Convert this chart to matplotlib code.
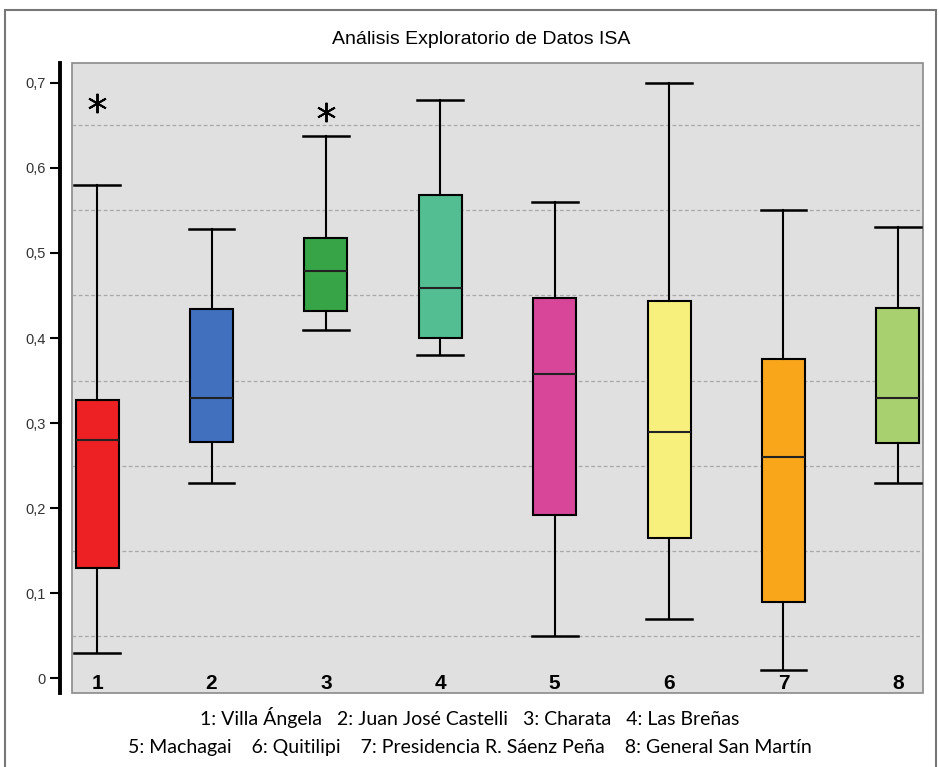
import matplotlib.pyplot as plt
import matplotlib.patches as patches
import numpy as np

# datos (ISA por localidad)
localidades = ["1", "2", "3", "4", "5", "6", "7", "8"]
bigote_sup = [0.58, 0.528, 0.638, 0.68, 0.56, 0.70, 0.55, 0.53]
q3 = [0.327, 0.434, 0.518, 0.568, 0.447, 0.443, 0.375, 0.435]
mediana = [0.28, 0.33, 0.479, 0.459, 0.358, 0.29, 0.26, 0.33]
q1 = [0.13, 0.278, 0.432, 0.40, 0.192, 0.165, 0.09, 0.277]
bigote_inf = [0.03, 0.23, 0.41, 0.38, 0.05, 0.07, 0.01, 0.23]
atipicos = [[0.676], [], [0.666], [], [], [], [], []]
colores = ["#ED2024", "#4170BF", "#37A547", "#52BE91",
           "#D8469A", "#F8F07C", "#F9A61B", "#A8D06F"]
nombres = ["1: Villa Ángela", "2: Juan José Castelli", "3: Charata", "4: Las Breñas",
           "5: Machagai", "6: Quitilipi", "7: Presidencia R. Sáenz Peña", "8: General San Martín"]

fig = plt.figure(figsize=(9.39, 7.67), dpi=100)
ax = fig.add_axes([72/939, 74/767, 851/939, 630/767])

stats = []
for i in range(len(localidades)):
    stats.append({"whishi": bigote_sup[i], "q3": q3[i], "med": mediana[i],
                  "q1": q1[i], "whislo": bigote_inf[i], "fliers": atipicos[i]})

pos = np.arange(1, len(localidades) + 1)
bp = ax.bxp(stats, positions=pos, widths=0.375, patch_artist=True,
            showfliers=True,
            boxprops=dict(edgecolor="black", linewidth=1.5),
            medianprops=dict(color="#222222", linewidth=1.5),
            whiskerprops=dict(color="black", linewidth=1.5),
            capprops=dict(color="black", linewidth=1.8),
            capwidths=0.4,
            flierprops=dict(marker=(6, 2, 0), markersize=14, markeredgecolor="black",
                            markeredgewidth=1.4, linestyle="none"))
for caja, c in zip(bp["boxes"], colores):
    caja.set_facecolor(c)

ax.set_xlim(0.78, 8.22)
ax.set_ylim(-0.0176, 0.7235)
ax.set_facecolor("#E0E0E0")
ax.patch.set_edgecolor("#8A8A8A")
ax.patch.set_linewidth(1.2)

for s in ["top", "right", "bottom"]:
    ax.spines[s].set_visible(False)
ax.spines["left"].set_position(("outward", 9))
ax.spines["left"].set_linewidth(2.8)

ax.set_yticks(np.arange(0, 0.71, 0.1))
ax.set_yticklabels(["0"] + ["0,%d" % k for k in range(1, 8)], fontsize=10.5,
                   color="#333333", fontfamily="Liberation Sans")
ax.set_yticks(np.arange(0.05, 0.7, 0.1), minor=True)
ax.tick_params(axis="y", which="major", length=7, width=1.5, pad=3)
ax.tick_params(axis="y", which="minor", length=0)
ax.grid(axis="y", which="minor", color="#A8A8A8", linestyle=(0, (3, 2)), linewidth=0.9)
ax.set_axisbelow(True)

ax.set_xticks([])
for p, lab in zip(pos, localidades):
    ax.text(p, -0.0176, lab, ha="center", va="bottom", fontsize=15,
            fontweight="bold", fontfamily="Liberation Sans")

fig.text(0.512, 1 - 40/767, "Análisis Exploratorio de Datos ISA", ha="center", va="center",
         fontsize=14, fontfamily="Liberation Sans")

fila1 = "   ".join(nombres[:4])
fila2 = "    ".join(nombres[4:])
fig.text(0.50, 1 - 718/767, fila1, ha="center", va="center", fontsize=14, fontfamily="Lato")
fig.text(0.50, 1 - 748/767, fila2, ha="center", va="center", fontsize=14, fontfamily="Lato")

# marco exterior
marco = patches.Rectangle((5/939, -0.05), 931/939, 1 - 10/767 + 0.05, transform=fig.transFigure,
                          fill=False, edgecolor="#777777", linewidth=1.5)
fig.patches.append(marco)

fig.savefig("out.png", dpi=100)
